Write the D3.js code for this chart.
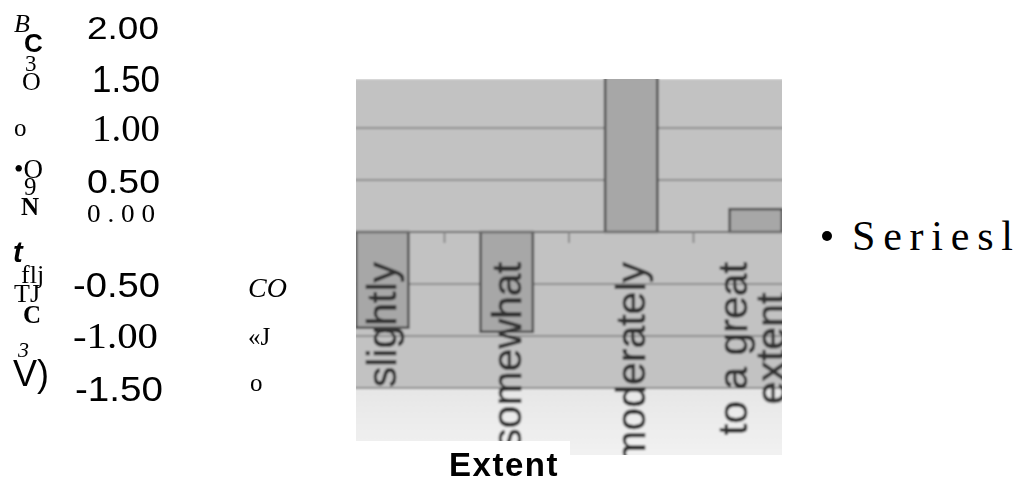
<!DOCTYPE html>
<html>
<head>
<meta charset="utf-8">
<script src="https://cdn.jsdelivr.net/npm/d3@7"></script>
<style>
  html, body { margin: 0; padding: 0; background: #fff; }
  svg { display: block; }
</style>
</head>
<body>
<svg id="chart" width="1024" height="484"></svg>
<script>
// ---- data ----
const categories = ["slightly", "somewhat", "moderately", "to a great extent"];
const categoryLines = [["slightly"], ["somewhat"], ["moderately"], ["to a great", "extent"]];
const series1 = [-0.92, -0.96, 1.60, 0.22];
const tickValues = [2.0, 1.5, 1.0, 0.5, 0.0, -0.5, -1.0, -1.5];
const tickLabels = ["2.00", "1.50", "1.00", "0.50", "0 . 0 0", "-0.50", "-1.00", "-1.50"];
const gridValues = [1.0, 0.5, -0.5, -1.0, -1.5];
const seriesName = "Seriesl";
const xTitle = "Extent";
// fragments of the rotated y title and side marks
const titleBits = ["B", "C", "3", "O", "o", "•O", "9", "N", "t", "flj", "TJ", "C", "3", "V)"];
const sideBits = ["CO", "«J", "o"];

// ---- styles ----
const SANS = "'Liberation Sans', Arial, sans-serif";
const SERIF = "'Liberation Serif', 'Times New Roman', serif";
// per-label font, size, fitted width, nudges
const tickStyle = [
  { f: SANS,  s: 32, w: 72, dx: -1, dy: 4 },
  { f: SANS,  s: 36, w: 68, dx: 0,  dy: 3 },
  { f: SERIF, s: 37, w: 68, dx: 0,  dy: 0 },
  { f: SANS,  s: 33, w: 73, dx: 0,  dy: 1 },
  { f: SERIF, s: 26, w: 68, dx: -5, dy: -19 },
  { f: SANS,  s: 35, w: 87, dx: 0,  dy: 0 },
  { f: SERIF, s: 36, w: 85, dx: -2, dy: 0 },
  { f: SANS,  s: 35, w: 88, dx: 3,  dy: 0 }
];
const titleStyle = [
  { f: SERIF, s: 26, it: 1, b: 0, x: 14, y: 32 },
  { f: SANS,  s: 26, it: 0, b: 1, x: 24, y: 52 },
  { f: SERIF, s: 23, it: 0, b: 0, x: 25, y: 71 },
  { f: SERIF, s: 26, it: 0, b: 0, x: 22, y: 90 },
  { f: SERIF, s: 25, it: 0, b: 0, x: 14, y: 136 },
  { f: SERIF, s: 27, it: 0, b: 0, x: 14, y: 178 },
  { f: SERIF, s: 25, it: 0, b: 0, x: 24, y: 195 },
  { f: SERIF, s: 25, it: 0, b: 1, x: 21, y: 215 },
  { f: SANS,  s: 29, it: 1, b: 1, x: 13, y: 262 },
  { f: SERIF, s: 26, it: 0, b: 0, x: 21, y: 283 },
  { f: SERIF, s: 26, it: 0, b: 0, x: 14, y: 302 },
  { f: SERIF, s: 25, it: 0, b: 1, x: 23, y: 323 },
  { f: SERIF, s: 22, it: 1, b: 0, x: 18, y: 357 },
  { f: SANS,  s: 36, it: 0, b: 0, x: 13, y: 386 }
];
const sideStyle = [
  { f: SERIF, s: 28, it: 1, x: 248, y: 297 },
  { f: SERIF, s: 25, it: 0, x: 248, y: 345 },
  { f: SERIF, s: 25, it: 0, x: 250, y: 391 }
];

const svg = d3.select("#chart");

// plot panel geometry
const panel = { x0: 356, x1: 782, y0: 79, yGray: 388 };

const x = d3.scaleBand()
  .domain(categories)
  .range([320, 818])
  .paddingInner(0.58)
  .paddingOuter(0.29);

const y = d3.scaleLinear().domain([-1.5, 1.5]).range([388, 76]);

// soft scanned look for the chart panel
const defs = svg.append("defs");
defs.append("filter").attr("id", "soft")
  .attr("x", "-5%").attr("y", "-5%").attr("width", "110%").attr("height", "110%")
  .append("feGaussianBlur").attr("stdDeviation", 0.9);
defs.append("clipPath").attr("id", "panelClip")
  .append("rect")
  .attr("x", panel.x0).attr("y", panel.y0)
  .attr("width", panel.x1 - panel.x0).attr("height", 455 - panel.y0);
const fade = defs.append("linearGradient").attr("id", "fade")
  .attr("x1", 0).attr("y1", 0).attr("x2", 0).attr("y2", 1);
fade.append("stop").attr("offset", "0%").attr("stop-color", "#e6e6e6");
fade.append("stop").attr("offset", "100%").attr("stop-color", "#f4f4f4");

const g = svg.append("g").attr("clip-path", "url(#panelClip)");
const inner = g.append("g").attr("filter", "url(#soft)");

// background of the plot area and the lighter strip below it
inner.append("rect")
  .attr("x", panel.x0 - 4).attr("y", panel.y0)
  .attr("width", panel.x1 - panel.x0 + 8).attr("height", panel.yGray - panel.y0)
  .attr("fill", "#c2c2c2");
inner.append("rect")
  .attr("x", panel.x0 - 4).attr("y", panel.yGray)
  .attr("width", panel.x1 - panel.x0 + 8).attr("height", 80)
  .attr("fill", "url(#fade)");

// horizontal gridlines
inner.selectAll("line.grid").data(gridValues).join("line")
  .attr("class", "grid")
  .attr("x1", panel.x0 - 4).attr("x2", panel.x1 + 4)
  .attr("y1", d => y(d)).attr("y2", d => y(d))
  .attr("stroke", "#8c8c8c").attr("stroke-width", 2);

// bars
inner.selectAll("rect.bar").data(series1).join("rect")
  .attr("class", "bar")
  .attr("x", (d, i) => x(categories[i]))
  .attr("width", x.bandwidth())
  .attr("y", d => y(Math.max(0, d)))
  .attr("height", d => Math.abs(y(d) - y(0)))
  .attr("fill", "#a7a7a7")
  .attr("stroke", "#4a4a4a").attr("stroke-width", 2.4);

// category axis: zero line and ticks between categories
inner.append("line")
  .attr("x1", panel.x0 - 4).attr("x2", panel.x1 + 4)
  .attr("y1", y(0)).attr("y2", y(0))
  .attr("stroke", "#6a6a6a").attr("stroke-width", 2);
const bounds = categories.slice(1).map(c => x(c) - x.step() * x.paddingInner() / 2);
inner.selectAll("line.tick").data(bounds).join("line")
  .attr("class", "tick")
  .attr("x1", d => d).attr("x2", d => d)
  .attr("y1", y(0)).attr("y2", y(0) + 11)
  .attr("stroke", "#8a8a8a").attr("stroke-width", 2);

// rotated category labels; multi-line labels are centred on their longest line
const labelSize = 41, lineGap = 38, labelTop = y(0) + 30;
categoryLines.forEach((lines, i) => {
  const cx = x(categories[i]) + x.bandwidth() / 2 - (lines.length > 1 ? 4 : 0);
  const texts = lines.map((t, j) => {
    const off = (j - (lines.length - 1) / 2) * lineGap;
    return inner.append("text")
      .attr("text-anchor", "middle")
      .attr("dominant-baseline", "central")
      .attr("font-family", SANS)
      .attr("font-size", labelSize)
      .attr("fill", "#2e2e2e")
      .attr("stroke", "#2e2e2e").attr("stroke-width", 0.6)
      .attr("data-off", off)
      .text(t);
  });
  const maxLen = d3.max(texts, t => t.node().getComputedTextLength());
  texts.forEach(t => {
    const off = +t.attr("data-off");
    t.attr("transform", `translate(${cx + off},${labelTop + maxLen / 2}) rotate(-90)`);
  });
});

// white band under the panel carrying the axis title
svg.append("rect")
  .attr("x", panel.x0).attr("y", 441)
  .attr("width", 570 - panel.x0).attr("height", 43)
  .attr("fill", "#fff");
svg.append("text")
  .attr("x", 504).attr("y", 476)
  .attr("text-anchor", "middle")
  .attr("font-family", SANS).attr("font-weight", "bold")
  .attr("font-size", 33).attr("letter-spacing", 1.5)
  .attr("fill", "#000")
  .text(xTitle);

// value axis labels
const yAxisScale = d3.scaleLinear().domain([-1.5, 2.0]).range([y(-1.5), y(2.0)]);
svg.selectAll("text.ytick").data(tickValues).join("text")
  .attr("class", "ytick")
  .attr("x", (d, i) => 160 + tickStyle[i].dx - tickStyle[i].w)
  .attr("y", (d, i) => yAxisScale(d) + tickStyle[i].dy)
  .attr("dominant-baseline", "central")
  .attr("font-family", (d, i) => tickStyle[i].f)
  .attr("font-size", (d, i) => tickStyle[i].s)
  .attr("textLength", (d, i) => tickStyle[i].w)
  .attr("lengthAdjust", "spacingAndGlyphs")
  .attr("fill", "#000")
  .text((d, i) => tickLabels[i]);

// broken-up y title pieces
svg.selectAll("text.tb").data(titleBits).join("text")
  .attr("class", "tb")
  .attr("x", (d, i) => titleStyle[i].x)
  .attr("y", (d, i) => titleStyle[i].y)
  .attr("font-family", (d, i) => titleStyle[i].f)
  .attr("font-size", (d, i) => titleStyle[i].s)
  .attr("font-style", (d, i) => titleStyle[i].it ? "italic" : "normal")
  .attr("font-weight", (d, i) => titleStyle[i].b ? "bold" : "normal")
  .attr("fill", "#000")
  .text(d => d);

svg.selectAll("text.sb").data(sideBits).join("text")
  .attr("class", "sb")
  .attr("x", (d, i) => sideStyle[i].x)
  .attr("y", (d, i) => sideStyle[i].y)
  .attr("font-family", (d, i) => sideStyle[i].f)
  .attr("font-size", (d, i) => sideStyle[i].s)
  .attr("font-style", (d, i) => sideStyle[i].it ? "italic" : "normal")
  .attr("fill", "#000")
  .text(d => d);

// legend
const legend = svg.append("g").attr("transform", "translate(827,236)");
legend.append("circle").attr("cx", 0).attr("cy", 0).attr("r", 5).attr("fill", "#000");
legend.append("text")
  .attr("x", 25).attr("y", 0)
  .attr("dominant-baseline", "central")
  .attr("font-family", SERIF).attr("font-size", 42)
  .attr("textLength", 161).attr("lengthAdjust", "spacing")
  .attr("fill", "#000")
  .text(seriesName);
</script>
</body>
</html>
